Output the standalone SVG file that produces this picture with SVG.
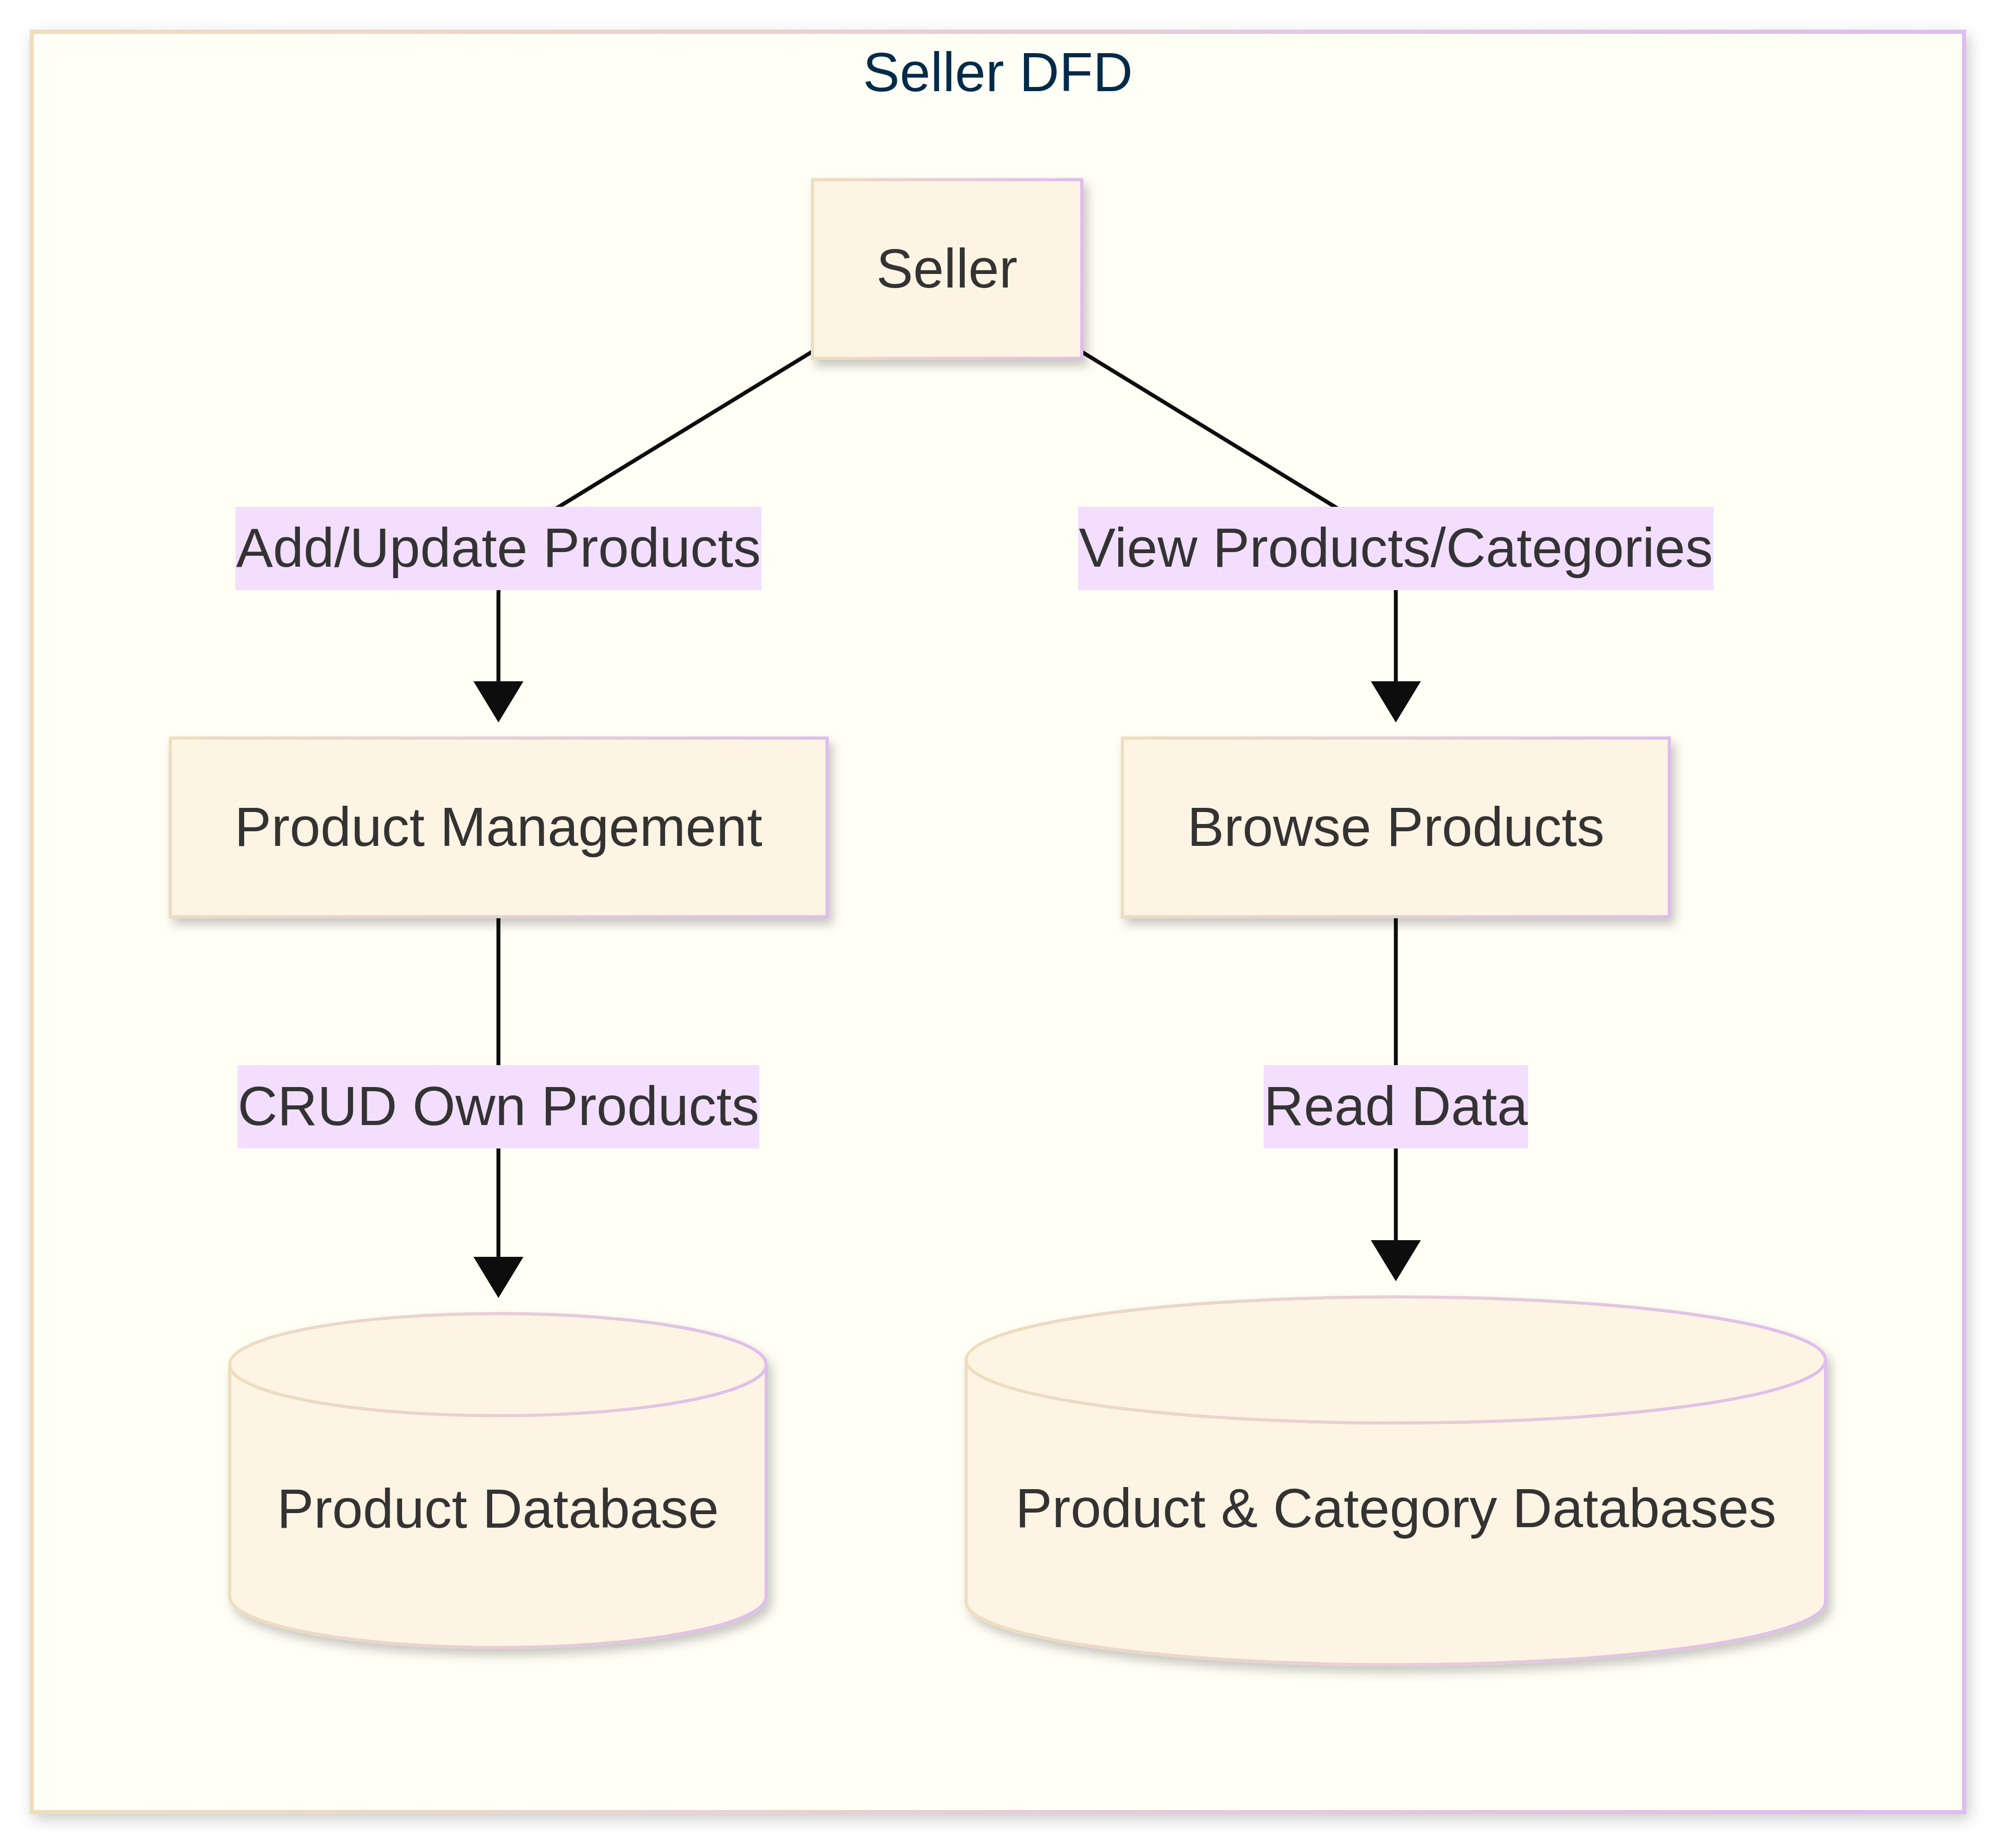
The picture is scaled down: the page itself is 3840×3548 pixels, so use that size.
<svg xmlns="http://www.w3.org/2000/svg" width="3840" height="3548" viewBox="0 0 3840 3548">
<defs>
<linearGradient id="grad" x1="0" y1="0" x2="1" y2="0">
<stop offset="0" stop-color="#EEDEBE"/>
<stop offset="1" stop-color="#DFBDEE"/>
</linearGradient>
<filter id="shadow" x="-10%" y="-10%" width="125%" height="130%">
<feDropShadow dx="8" dy="12" stdDeviation="10" flood-color="#000" flood-opacity="0.22"/>
</filter>
<filter id="fshadow" x="-5%" y="-5%" width="112%" height="112%">
<feDropShadow dx="6" dy="10" stdDeviation="14" flood-color="#000" flood-opacity="0.2"/>
</filter>
<style>
.node{fill:#FEF4E3;stroke:url(#grad);stroke-width:6;filter:url(#shadow)}
.frame{fill:#FFFFF6;stroke:url(#grad);stroke-width:8;filter:url(#fshadow)}
.txt{font-family:"Liberation Sans",Arial,sans-serif;font-size:106px;fill:#333333;text-anchor:middle}
.title{font-family:"Liberation Sans",Arial,sans-serif;font-size:106px;fill:#032B48;text-anchor:middle}
.edge{fill:none;stroke:#0D0D0D;stroke-width:7.5}
.head{fill:#0D0D0D}
.lbg{fill:#F3DEFF}
</style>
</defs>
<rect width="3840" height="3548" fill="#FFFFFF"/>
<g id="cluster-seller-dfd">
<rect class="frame" x="61" y="61" width="3710" height="3418"/>
<text class="title" x="1916" y="175">Seller DFD</text>
</g>
<g id="connectors">
<path class="edge" d="M1620,638 L1073,973 Q957,1044 957,1140 L957,1312"/>
<polygon class="head" points="909,1308 1005,1308 957,1387"/>
<path class="edge" d="M2016,638 L2563,973 Q2680,1044 2680,1140 L2680,1312"/>
<polygon class="head" points="2632,1308 2728,1308 2680,1387"/>
<path class="edge" d="M957,1763 L957,2417"/>
<polygon class="head" points="909,2413 1005,2413 957,2492"/>
<path class="edge" d="M2680,1758 L2680,2385"/>
<polygon class="head" points="2632,2381 2728,2381 2680,2460"/>
<g id="label-add-update">
<rect class="lbg" x="452" y="973" width="1010" height="160"/>
<text class="txt" x="957" y="1088">Add/Update Products</text>
</g>
<g id="label-view">
<rect class="lbg" x="2070" y="973" width="1220" height="160"/>
<text class="txt" x="2680" y="1088">View Products/Categories</text>
</g>
<g id="label-crud">
<rect class="lbg" x="456" y="2045" width="1002" height="160"/>
<text class="txt" x="957" y="2160">CRUD Own Products</text>
</g>
<g id="label-read">
<rect class="lbg" x="2426" y="2045" width="508" height="160"/>
<text class="txt" x="2680" y="2160">Read Data</text>
</g>
</g>
<g id="node-seller">
<rect class="node" x="1560" y="345" width="517" height="343"/>
<text class="txt" x="1818" y="552">Seller</text>
</g>
<g id="node-product-management">
<rect class="node" x="327" y="1417" width="1261" height="343"/>
<text class="txt" x="957" y="1624">Product Management</text>
</g>
<g id="node-browse-products">
<rect class="node" x="2155" y="1417" width="1050" height="343"/>
<text class="txt" x="2680" y="1624">Browse Products</text>
</g>
<g id="node-product-database">
<path class="node" d="M441,2620 a515,98 0 0 0 1030,0 a515,98 0 0 0 -1030,0 l0,445 a515,98 0 0 0 1030,0 l0,-445"/>
<text class="txt" x="956" y="2933">Product Database</text>
</g>
<g id="node-product-category-databases">
<path class="node" d="M1855,2611 a825,121 0 0 0 1650,0 a825,121 0 0 0 -1650,0 l0,464 a825,121 0 0 0 1650,0 l0,-464"/>
<text class="txt" x="2680" y="2932">Product &amp; Category Databases</text>
</g>
</svg>
